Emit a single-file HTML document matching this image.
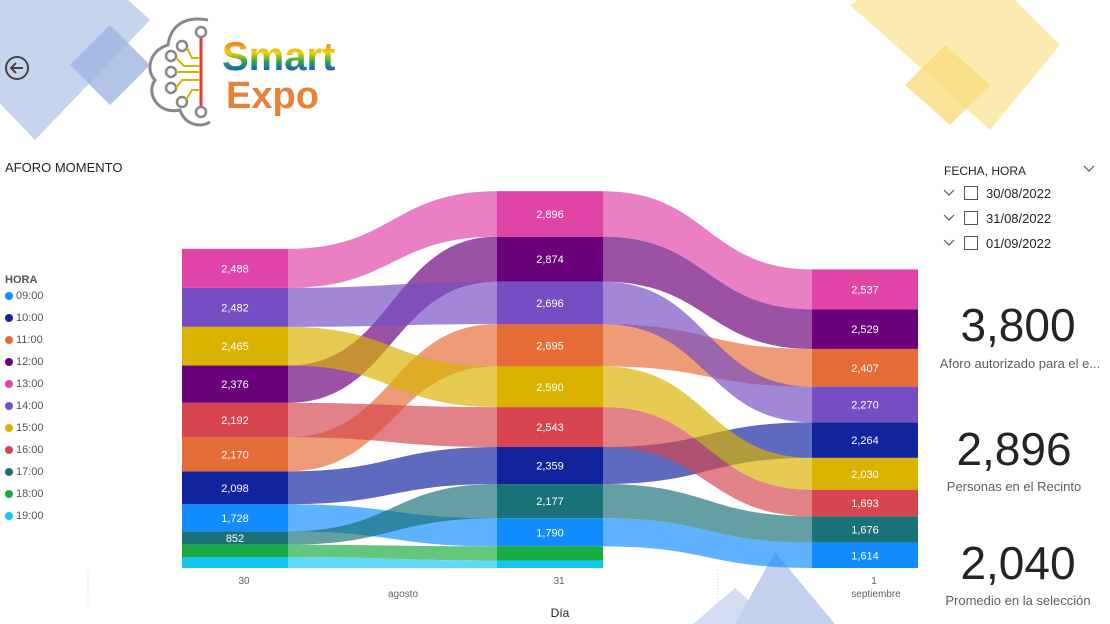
<!DOCTYPE html>
<html><head><meta charset="utf-8">
<style>
body{margin:0;width:1110px;height:624px;overflow:hidden;background:#fff;font-family:"Liberation Sans",sans-serif;position:relative}
.abs{position:absolute}
</style></head>
<body>
<svg class="abs" style="left:0;top:0" width="1110" height="624">
  <polygon points="30,-90 150,20 35,140 -80,20" fill="#c7d4ee"/>
  <polygon points="110,25 150,65 110,105 70,65" fill="#9fb4e2" opacity="0.8"/>
  <polygon points="850,5 955,-60 1060,45 990,130" fill="#fcebb0"/>
  <polygon points="945,45 990,85 950,125 905,85" fill="#f9dc80" opacity="0.8"/>
  <polygon points="693,624 735,588 775,624" fill="#d3ddf2"/>
  <polygon points="735,624 775,552 835,624" fill="#c3d0ee"/>
</svg>
<svg class="abs" style="left:4;top:55" width="28" height="28">
  <circle cx="13" cy="13" r="11" fill="none" stroke="#444" stroke-width="2"/>
  <path d="M19 13H8M12 8l-5 5 5 5" fill="none" stroke="#444" stroke-width="2"/>
</svg>
<svg class="abs" style="left:140;top:10" width="230" height="125">
  <defs><linearGradient id="rb" x1="0" y1="0" x2="0" y2="1">
    <stop offset="0" stop-color="#e53935"/><stop offset="0.2" stop-color="#f08a24"/><stop offset="0.4" stop-color="#f5d000"/><stop offset="0.6" stop-color="#2ca84a"/><stop offset="0.8" stop-color="#1e5bc6"/><stop offset="1" stop-color="#7b2c9e"/></linearGradient></defs>
  <path d="M68 10 C40 5 30 20 28 35 C10 40 5 60 15 70 C5 85 20 105 40 100 C45 115 60 118 70 112" fill="none" stroke="#888" stroke-width="3"/>
  <line x1="61" y1="25" x2="61" y2="102" stroke="#e53935" stroke-width="3"/>
  <circle cx="61" cy="22" r="5" fill="#fff" stroke="#888" stroke-width="2.5"/>
  <circle cx="61" cy="102" r="5" fill="#fff" stroke="#888" stroke-width="2.5"/>
  <circle cx="42" cy="36" r="5" fill="#fff" stroke="#888" stroke-width="2.5"/>
  <circle cx="31" cy="46" r="5" fill="#fff" stroke="#888" stroke-width="2.5"/>
  <circle cx="31" cy="62" r="5" fill="#fff" stroke="#888" stroke-width="2.5"/>
  <circle cx="31" cy="78" r="5" fill="#fff" stroke="#888" stroke-width="2.5"/>
  <circle cx="42" cy="92" r="5" fill="#fff" stroke="#888" stroke-width="2.5"/>
  <path d="M47 38 L52 48 H60 M36 48 L44 56 H60 M36 62 H60 M36 78 L42 70 H60 M46 90 L52 80 H60" fill="none" stroke="#d9b300" stroke-width="2"/>
  <text x="82" y="60" font-size="40" font-weight="bold" fill="url(#rb)">Smart</text>
  <text x="86" y="98" font-size="38" font-weight="bold" fill="#e8823a">Expo</text>
</svg>
<div class="abs" style="left:5px;top:160px;font-size:13px;color:#252423">AFORO MOMENTO</div>

<div class="abs" style="left:5px;top:274px;font-size:11px;font-weight:bold;color:#555">HORA</div>
<div id="legend" class="abs" style="left:0;top:290px"></div>

<svg id="chart" class="abs" style="left:0;top:0" width="930" height="624"></svg>

<div class="abs" style="left:944px;top:164px;font-size:12px;color:#252423">FECHA, HORA</div>
<svg class="abs" style="left:1082;top:164" width="14" height="10"><path d="M2 2l5 5 5-5" fill="none" stroke="#555" stroke-width="1.2"/></svg>
<div id="slicer" class="abs" style="left:942px;top:184px"></div>

<div class="abs" style="left:930px;top:298px;width:176px;text-align:center;font-size:46px;color:#252423">3,800</div>
<div class="abs" style="left:930px;top:356px;width:180px;text-align:center;font-size:13px;color:#605e5c;white-space:nowrap">Aforo autorizado para el e...</div>
<div class="abs" style="left:926px;top:422px;width:176px;text-align:center;font-size:46px;color:#252423">2,896</div>
<div class="abs" style="left:926px;top:479px;width:176px;text-align:center;font-size:13px;color:#605e5c">Personas en el Recinto</div>
<div class="abs" style="left:930px;top:536px;width:176px;text-align:center;font-size:46px;color:#252423">2,040</div>
<div class="abs" style="left:930px;top:593px;width:176px;text-align:center;font-size:13px;color:#605e5c">Promedio en la selección</div>

<script>
const hours=["09:00","10:00","11:00","12:00","13:00","14:00","15:00","16:00","17:00","18:00","19:00"];
const colors=["#118DFF","#12239E","#E66C37","#6B007B","#E044A7","#744EC2","#D9B300","#D64550","#197278","#1AAB40","#15C6F4"];
const days=["30","31","1"];
const day30=[1728,2098,2170,2376,2488,2482,2465,2192,852,780,700];
const day31=[1790,2359,2695,2874,2896,2696,2590,2543,2177,900,480];
const day01=[1614,2264,2407,2529,2537,2270,2030,1693,1676,0,0];
const slicerDates=["30/08/2022","31/08/2022","01/09/2022"];

const NS="http://www.w3.org/2000/svg";
const svg=document.getElementById('chart');
const series=[day30,day31,day01];
const colX=[182,497,812], colW=106, baseY=568, k=0.0157;
const yLen=v=>v*k;
function mk(tag,attrs){const e=document.createElementNS(NS,tag);for(const a in attrs)e.setAttribute(a,attrs[a]);return e;}
const pos=series.map(vals=>{
  const idx=vals.map((v,i)=>i).sort((a,b)=>vals[a]-vals[b]);
  let y=baseY;const p={};
  idx.forEach(i=>{const h=yLen(vals[i]);p[i]=[y-h,y];y-=h;});
  return p;});
for(let c=0;c<2;c++){
  const x0=colX[c]+colW,x1=colX[c+1],xm=(x0+x1)/2;
  hours.forEach((h,i)=>{
    const a=pos[c][i],b=pos[c+1][i];
    if(series[c][i]<=0||series[c+1][i]<=0)return;
    const d=`M${x0},${a[0]} C${xm},${a[0]} ${xm},${b[0]} ${x1},${b[0]} L${x1},${b[1]} C${xm},${b[1]} ${xm},${a[1]} ${x0},${a[1]} Z`;
    const p=mk('path',{d:d,fill:colors[i],'fill-opacity':0.68});
    
    
    svg.appendChild(p);
  });
}
series.forEach((vals,c)=>{
  hours.forEach((h,i)=>{
    if(vals[i]<=0)return;
    const [y0,y1]=pos[c][i];
    const r=mk('rect',{x:colX[c],y:y0,width:colW,height:y1-y0,fill:colors[i]});
    
    
    svg.appendChild(r);
    if(y1-y0>=13 && i<9){
      const t=mk('text',{x:colX[c]+colW/2,y:(y0+y1)/2+4,'text-anchor':'middle','font-size':11,fill:'#fff'});
      t.textContent=vals[i].toLocaleString('en-US');
      
      
      svg.appendChild(t);
    }
  });
  const t=mk('text',{x:colX[c]+colW/2+9,y:584,'text-anchor':'middle','font-size':10,fill:'#605e5c'});
  t.textContent=days[c];
  
  
  svg.appendChild(t);
});
[["agosto",403],["septiembre",876]].forEach(([s,x])=>{
  const t=mk('text',{x:x,y:597,'text-anchor':'middle','font-size':10,fill:'#605e5c'});
  t.textContent=s;
  
  
  svg.appendChild(t);
});
[88,718].forEach(x=>{
  const l=mk('line',{x1:x,y1:570,x2:x,y2:604,stroke:'#ccc','stroke-dasharray':'1,2'});
  
  
  svg.appendChild(l);
});
const xt=mk('text',{x:560,y:617,'text-anchor':'middle','font-size':12,fill:'#252423'});
xt.textContent="Día";


svg.appendChild(xt);
const lg=document.getElementById('legend');
hours.forEach((h,i)=>{
  const d=document.createElement('div');
  
  
  d.style.cssText=`position:absolute;left:5px;top:${i*22}px;font-size:11px;color:#555;white-space:nowrap;display:flex;align-items:center`;
  d.innerHTML=`<span style="display:inline-block;width:8px;height:8px;border-radius:50%;background:${colors[i]};margin-right:3px"></span>${h}`;
  lg.appendChild(d);
});
const sl=document.getElementById('slicer');
slicerDates.forEach((s,i)=>{
  const d=document.createElement('div');
  
  
  d.style.cssText=`position:absolute;left:0;top:${i*25}px;font-size:13px;color:#252423;white-space:nowrap;display:flex;align-items:center;height:18px`;
  d.innerHTML=`<svg width="16" height="10" style="margin-right:6px"><path d="M2 2l5 5 5-5" fill="none" stroke="#555" stroke-width="1.2"/></svg><span style="display:inline-block;width:12px;height:12px;border:1px solid #555;margin-right:8px"></span>${s}`;
  sl.appendChild(d);
});
</script>
</body></html>
